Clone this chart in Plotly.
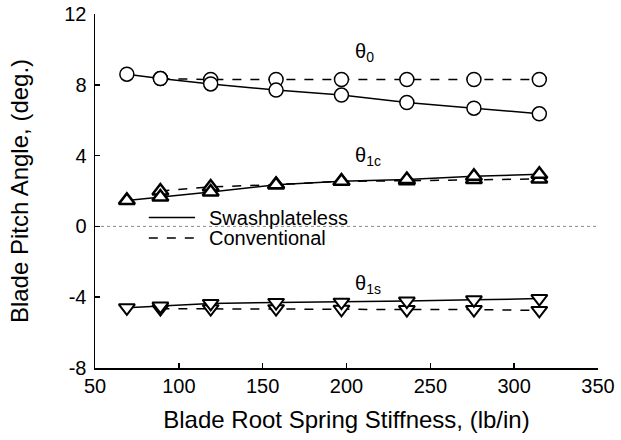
import plotly.graph_objects as go

# Data
stiff_swash = [69, 89, 119, 158, 197, 236, 276, 315]
stiff_conv = [89, 119, 158, 197, 236, 276, 315]

theta0_swash = [8.6, 8.35, 8.05, 7.7, 7.42, 7.0, 6.68, 6.36]
theta0_conv = [8.35, 8.3, 8.3, 8.3, 8.3, 8.3, 8.3]

theta1c_swash = [1.47, 1.66, 1.94, 2.36, 2.55, 2.65, 2.83, 2.95]
theta1c_conv = [2.0, 2.23, 2.36, 2.55, 2.58, 2.65, 2.68]

theta1s_swash = [-4.6, -4.5, -4.35, -4.3, -4.28, -4.22, -4.15, -4.08]
theta1s_conv = [-4.65, -4.65, -4.65, -4.68, -4.7, -4.7, -4.75]

x_ticks = [50, 100, 150, 200, 250, 300, 350]
y_ticks = [-8, -4, 0, 4, 8, 12]
y_tick_labels = ["-8", "-4", "0", "4", "8", "12"]

series_names = ["Swashplateless", "Conventional"]

FONT = "Liberation Sans, Arial, sans-serif"
FS = 20

fig = go.Figure()

def add(x, y, dash, symbol, mwidth):
    fig.add_trace(go.Scatter(
        x=x, y=y, mode="lines+markers", showlegend=False,
        line=dict(color="black", width=1.5, dash=dash),
        marker=dict(symbol=symbol, size=14, color="white",
                    line=dict(color="black", width=mwidth)),
    ))

# conventional first so swashplateless drawn on top
add(stiff_conv, theta0_conv, "dash", "circle", 1.5)
add(stiff_swash, theta0_swash, "solid", "circle", 1.5)
add(stiff_conv, theta1c_conv, "dash", "triangle-up", 2.5)
add(stiff_swash, theta1c_swash, "solid", "triangle-up", 2.5)
add(stiff_conv, theta1s_conv, "dash", "triangle-down", 2)
add(stiff_swash, theta1s_swash, "solid", "triangle-down", 2)

# zero reference line
fig.add_shape(type="line", xref="paper", x0=0, x1=1, yref="y", y0=0, y1=0,
              line=dict(color="#888888", width=1, dash="dot"), layer="below")

# legend (line samples + labels)
for name, dash, yv in [(series_names[0], "solid", 0.5), (series_names[1], "dash", -0.65)]:
    fig.add_shape(type="line", xref="paper", x0=0.107, x1=0.199, yref="y", y0=yv, y1=yv,
                  line=dict(color="black", width=1.5, dash=dash))
    fig.add_annotation(xref="paper", x=0.222, y=yv, text=name, showarrow=False,
                       xanchor="left", yanchor="middle",
                       font=dict(family=FONT, size=FS, color="black"))

for txt, xv, yv in [("θ<sub>0</sub>", 211, 9.85),
                    ("θ<sub>1c</sub>", 213, 3.95),
                    ("θ<sub>1s</sub>", 213, -3.3)]:
    fig.add_annotation(x=xv, y=yv, text=txt, showarrow=False,
                       font=dict(family=FONT, size=FS, color="black"))

fig.update_layout(
    width=621, height=440,
    margin=dict(l=95, r=23, t=14, b=72),
    paper_bgcolor="white", plot_bgcolor="white",
    font=dict(family=FONT, size=FS, color="black"),
    showlegend=False,
)
fig.update_xaxes(range=[50, 350], tickvals=x_ticks, showgrid=False, zeroline=False,
                 showline=True, linecolor="black", linewidth=1.5,
                 ticks="inside", ticklen=5, tickwidth=1.5, tickcolor="black",
                 automargin=False, ticklabelstandoff=-1, ticklabeloverflow="allow",
                 title=dict(text="Blade Root Spring Stiffness, (lb/in)", standoff=15))
fig.update_yaxes(range=[-8, 12], tickvals=y_ticks, ticktext=y_tick_labels,
                 showgrid=False, zeroline=False,
                 showline=True, linecolor="black", linewidth=1.5,
                 ticks="inside", ticklen=5, tickwidth=1.5, tickcolor="black",
                 automargin=False, ticklabelstandoff=3, ticklabeloverflow="allow",
                 title=dict(text="Blade Pitch Angle, (deg.)", standoff=29))

# remove the default 8px page margin so the figure fills the window exactly
fig.write_html("out.html",
               config={"displayModeBar": False, "staticPlot": True},
               post_script="document.body.style.margin='0';document.body.style.overflow='hidden';")
